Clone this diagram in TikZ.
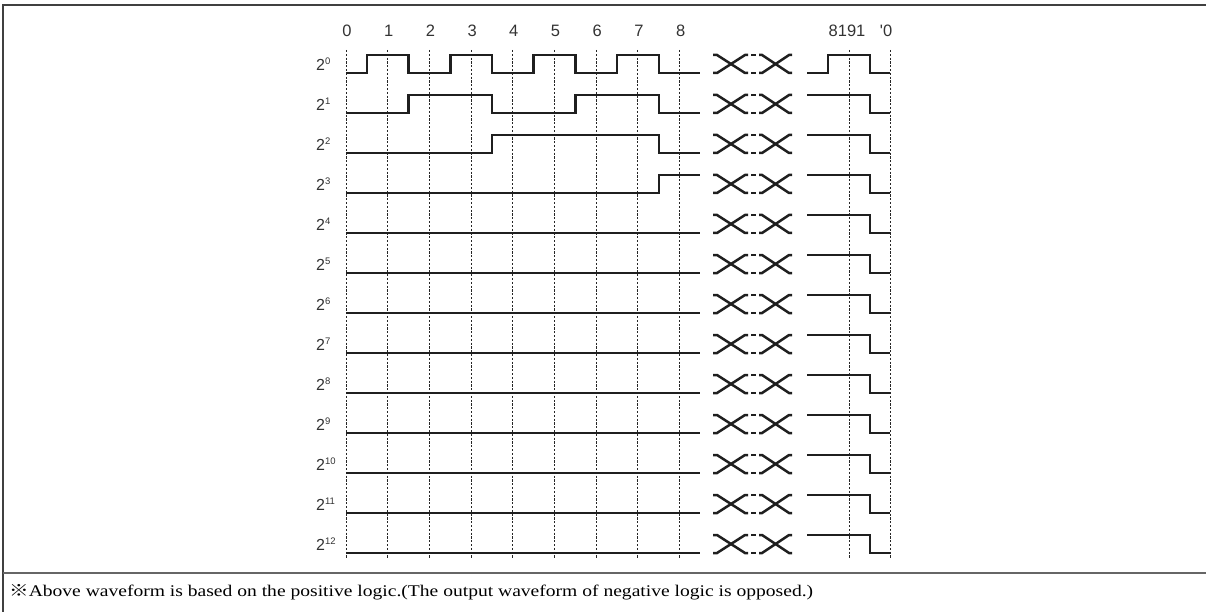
\documentclass[tikz,border=0pt]{standalone}
\usepackage{fontspec}
\setmainfont{Liberation Serif}
\setsansfont{Liberation Sans}
\newfontfamily\cjk{Noto Sans CJK KR}
\begin{document}
\begin{tikzpicture}[x=1pt,y=-1pt,
  wave/.style={line width=2.5pt, draw=black!88, line join=miter},
  gridline/.style={line width=1pt, draw=black!85, dash pattern=on 2.2pt off 1.6pt},
  toplab/.style={font=\fontsize{16.5}{16.5}\sffamily, text=black!80, inner sep=0pt},
  rowlab/.style={font=\fontsize{16}{16}\sffamily, text=black!80, inner sep=0pt, anchor=west},
  busx/.pic={
    \draw[wave] (713,-18) -- (717,-18) -- (745,0) -- (748,0);
    \draw[wave] (713,0) -- (717,0) -- (745,-18) -- (748,-18);
    \draw[wave] (751,-18) -- (756,-18);
    \draw[wave] (751,0) -- (756,0);
    \draw[wave] (759,-18) -- (762,-18) -- (789,0) -- (792,0);
    \draw[wave] (759,0) -- (762,0) -- (789,-18) -- (792,-18);
  }]
\useasboundingbox (0,0) rectangle (1206,612);
% frame
\draw[line width=2pt, draw=black!75] (1206,5) -- (3,5) -- (3,612);
\draw[line width=2.4pt, draw=black!60] (3,573) -- (1206,573);
% grid lines and top labels
\foreach \k in {0,...,8} {
  \draw[gridline] (346+41.7*\k,50) -- (346+41.7*\k,558);
  \node[toplab] (t\k) at (347+41.7*\k,31) {\k};
}
\draw[gridline] (849.5,50) -- (849.5,558);
\draw[gridline] (890,50) -- (890,558);
\node[toplab] (t8191) at (847,31) {8191};
\node[toplab] (tzero) at (886,31) {\textquotesingle0};
% row labels
\foreach \k in {0,...,12} {
  \node[rowlab] (r\k) at (316,73+40*\k-9) {2\raisebox{6pt}{\fontsize{9.5}{9.5}\selectfont\k}};
}
% left waveforms
\draw[wave] (346,73) -| (366.85,55) -| (408.55,73) -| (450.25,55) -| (491.95,73) -| (533.65,55) -| (575.35,73) -| (617.05,55) -| (658.75,73) -- (700,73);
\draw[wave] (346,113) -| (408.55,95) -| (491.95,113) -| (575.35,95) -| (658.75,113) -- (700,113);
\draw[wave] (346,153) -| (491.95,135) -| (658.75,153) -- (700,153);
\draw[wave] (346,193) -| (658.75,175) -- (700,175);
\foreach \k in {4,...,12} {
  \draw[wave] (346,73+40*\k) -- (700,73+40*\k);
}
% bus crossings
\foreach \k in {0,...,12} {
  \pic at (0,73+40*\k) {busx};
}
% right waveforms
\draw[wave] (807,73) -| (828,55) -| (870,73) -- (889.5,73);
\foreach \k in {1,...,12} {
  \draw[wave] (807,55+40*\k) -| (870,73+40*\k) -- (889.5,73+40*\k);
}
% footer note
\node[anchor=west, inner sep=0pt, font=\fontsize{16.3}{16.3}\selectfont] (note) at (9,592)
  {\scalebox{1.2}[1]{{\cjk ※}Above waveform is based on the positive logic.(The output waveform of negative logic is opposed.)}};
\end{tikzpicture}
\end{document}
